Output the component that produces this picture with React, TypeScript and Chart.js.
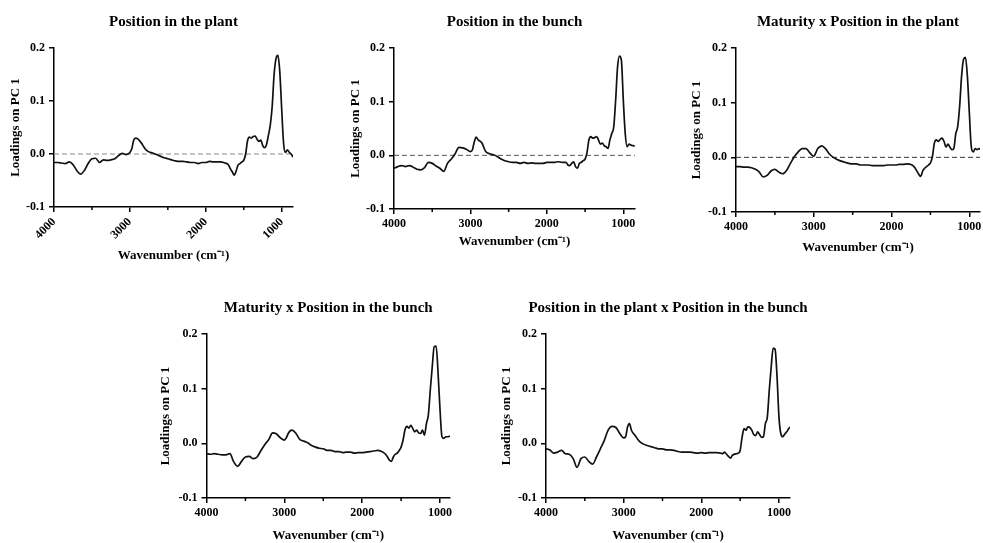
import React, { useEffect, useRef } from "react";
import { Chart, registerables } from "chart.js";

Chart.register(...registerables);

// ---------------- DATA ----------------
const wavenumbers = [
  4000, 3950, 3900, 3850, 3800, 3750, 3700, 3650, 3600, 3550,
  3500, 3450, 3400, 3350, 3300, 3250, 3200, 3150, 3100, 3050,
  3000, 2975, 2950, 2925, 2900, 2850, 2800, 2750, 2700, 2650,
  2600, 2550, 2500, 2450, 2400, 2350, 2300, 2250, 2200, 2150,
  2100, 2050, 2000, 1950, 1900, 1850, 1800, 1750, 1725, 1700,
  1675, 1650, 1625, 1600, 1575, 1550, 1525, 1500, 1475, 1450,
  1425, 1400, 1375, 1350, 1325, 1300, 1275, 1250, 1225, 1200,
  1175, 1150, 1125, 1100, 1075, 1050, 1025, 1000, 975, 950,
  925, 900, 875, 850,
];

const posPlant = [
  -0.016, -0.016, -0.017, -0.018, -0.015, -0.020, -0.031, -0.038, -0.031, -0.018,
  -0.009, -0.008, -0.016, -0.011, -0.012, -0.011, -0.009, -0.003, 0.001, -0.001,
  0.003, 0.010, 0.026, 0.030, 0.029, 0.021, 0.010, 0.004, 0.002, -0.001,
  -0.004, -0.007, -0.009, -0.011, -0.013, -0.014, -0.014, -0.015, -0.016, -0.016,
  -0.018, -0.016, -0.016, -0.014, -0.015, -0.015, -0.015, -0.017, -0.018, -0.021,
  -0.028, -0.034, -0.040, -0.032, -0.021, -0.018, -0.015, -0.012, 0.000, 0.025,
  0.032, 0.030, 0.033, 0.034, 0.028, 0.024, 0.026, 0.016, 0.012, 0.018,
  0.035, 0.055, 0.090, 0.150, 0.180, 0.186, 0.155, 0.085, 0.020, 0.003,
  0.008, 0.003, 0.000, -0.006,
];

const posBunch = [
  -0.024, -0.021, -0.019, -0.021, -0.019, -0.022, -0.026, -0.027, -0.023, -0.013,
  -0.015, -0.020, -0.024, -0.030, -0.015, -0.007, 0.003, 0.015, 0.014, 0.011,
  0.007, 0.010, 0.025, 0.034, 0.029, 0.023, 0.007, 0.003, 0.001, -0.002,
  -0.007, -0.010, -0.012, -0.013, -0.013, -0.015, -0.013, -0.015, -0.014, -0.015,
  -0.015, -0.015, -0.013, -0.013, -0.013, -0.012, -0.013, -0.013, -0.018, -0.019,
  -0.015, -0.012, -0.021, -0.024, -0.015, -0.013, -0.010, -0.007, 0.005, 0.029,
  0.035, 0.032, 0.033, 0.035, 0.029, 0.021, 0.023, 0.018, 0.016, 0.013,
  0.029, 0.041, 0.053, 0.103, 0.165, 0.185, 0.177, 0.103, 0.041, 0.016,
  0.021, 0.019, 0.018, 0.017,
];

const matPlant = [
  -0.017, -0.017, -0.018, -0.018, -0.019, -0.022, -0.027, -0.036, -0.033, -0.025,
  -0.022, -0.027, -0.030, -0.024, -0.011, 0.001, 0.010, 0.016, 0.016, 0.008,
  0.002, 0.008, 0.016, 0.019, 0.021, 0.016, 0.006, 0.000, -0.004, -0.007,
  -0.009, -0.011, -0.012, -0.012, -0.014, -0.014, -0.014, -0.015, -0.015, -0.015,
  -0.015, -0.014, -0.014, -0.014, -0.013, -0.013, -0.012, -0.013, -0.015, -0.019,
  -0.025, -0.031, -0.035, -0.025, -0.020, -0.017, -0.014, -0.010, 0.001, 0.026,
  0.032, 0.029, 0.033, 0.035, 0.029, 0.019, 0.024, 0.019, 0.014, 0.016,
  0.043, 0.056, 0.093, 0.148, 0.179, 0.183, 0.148, 0.081, 0.019, 0.010,
  0.016, 0.014, 0.016, 0.014,
];

const matBunch = [
  -0.019, -0.020, -0.019, -0.020, -0.021, -0.021, -0.019, -0.034, -0.042, -0.033,
  -0.025, -0.024, -0.028, -0.025, -0.013, -0.002, 0.007, 0.019, 0.017, 0.010,
  0.006, 0.010, 0.018, 0.023, 0.024, 0.018, 0.007, 0.004, 0.001, -0.004,
  -0.007, -0.009, -0.010, -0.013, -0.013, -0.015, -0.015, -0.017, -0.016, -0.016,
  -0.018, -0.017, -0.017, -0.016, -0.015, -0.014, -0.013, -0.015, -0.017, -0.020,
  -0.025, -0.031, -0.033, -0.025, -0.020, -0.018, -0.013, -0.007, 0.006, 0.025,
  0.031, 0.028, 0.033, 0.027, 0.021, 0.024, 0.019, 0.018, 0.024, 0.015,
  0.036, 0.052, 0.098, 0.140, 0.177, 0.178, 0.128, 0.061, 0.012, 0.009,
  0.012, 0.012, 0.013, 0.013,
];

const plantBunch = [
  -0.010, -0.012, -0.018, -0.016, -0.013, -0.019, -0.020, -0.028, -0.044, -0.028,
  -0.025, -0.033, -0.038, -0.025, -0.010, 0.005, 0.024, 0.031, 0.029, 0.018,
  0.010, 0.012, 0.030, 0.036, 0.024, 0.014, 0.004, -0.001, -0.004, -0.006,
  -0.008, -0.010, -0.010, -0.012, -0.012, -0.013, -0.015, -0.016, -0.016, -0.016,
  -0.017, -0.018, -0.017, -0.018, -0.017, -0.017, -0.017, -0.018, -0.019, -0.016,
  -0.020, -0.024, -0.027, -0.022, -0.020, -0.019, -0.018, -0.013, 0.011, 0.027,
  0.024, 0.030, 0.029, 0.024, 0.016, 0.014, 0.021, 0.016, 0.011, 0.012,
  0.036, 0.048, 0.097, 0.140, 0.174, 0.172, 0.122, 0.048, 0.017, 0.012,
  0.017, 0.021, 0.027, 0.030,
];

const panelTitles = [
  "Position in the plant",
  "Position in the bunch",
  "Maturity x Position in the plant",
  "Maturity x Position in the bunch",
  "Position in the plant x Position in the bunch",
];
const xAxisTitle = "Wavenumber (cm\u207B\u00B9)";
const yAxisTitle = "Loadings on PC 1";
const xMax = 4000;
const xMins = [851, 847, 863, 872, 858];
const xMajorTicks = [4000, 3000, 2000, 1000];
const xMinorTicks = [3500, 2500, 1500];
const yMin = -0.1;
const yMax = 0.2;
const yTicks = [-0.1, 0.0, 0.1, 0.2];
const yTickLabels = ["-0.1", "0.0", "0.1", "0.2"];
const seriesList = [posPlant, posBunch, matPlant, matBunch, plantBunch];

// ---------------- LAYOUT / STYLE ----------------
const FONT = "'Liberation Serif', 'Times New Roman', Times, serif";

type Box = { left: number; top: number; right: number; bottom: number };
type PanelLayout = {
  canvas: Box;
  plot: Box;
  titleY: number;
  yTitleX: number;
  xTitleY: number;
  rotate: number;
  zeroLine: boolean;
  zeroColor: string;
};

const layouts: PanelLayout[] = [
  {
    canvas: { left: 8, top: 0, right: 300, bottom: 270 },
    plot: { left: 54, top: 48, right: 293, bottom: 207 },
    titleY: 22, yTitleX: 15.5, xTitleY: 256, rotate: 45,
    zeroLine: true, zeroColor: "#8a8a8a",
  },
  {
    canvas: { left: 348, top: 0, right: 642, bottom: 270 },
    plot: { left: 394, top: 48, right: 635, bottom: 209 },
    titleY: 22, yTitleX: 355, xTitleY: 242, rotate: 0,
    zeroLine: true, zeroColor: "#555",
  },
  {
    canvas: { left: 689, top: 0, right: 983, bottom: 270 },
    plot: { left: 736, top: 48, right: 980, bottom: 212 },
    titleY: 22, yTitleX: 696, xTitleY: 248, rotate: 0,
    zeroLine: true, zeroColor: "#333",
  },
  {
    canvas: { left: 158, top: 280, right: 470, bottom: 543 },
    plot: { left: 206.5, top: 334, right: 450, bottom: 498 },
    titleY: 308, yTitleX: 165.7, xTitleY: 535.5, rotate: 0,
    zeroLine: false, zeroColor: "#333",
  },
  {
    canvas: { left: 499, top: 280, right: 840, bottom: 543 },
    plot: { left: 546, top: 334, right: 790, bottom: 498 },
    titleY: 308, yTitleX: 506, xTitleY: 535.5, rotate: 0,
    zeroLine: false, zeroColor: "#333",
  },
];

function Panel({ index }: { index: number }) {
  const ref = useRef<HTMLCanvasElement | null>(null);
  const L = layouts[index];
  const cw = L.canvas.right - L.canvas.left;
  const ch = L.canvas.bottom - L.canvas.top;

  useEffect(() => {
    if (!ref.current) return;
    const values = seriesList[index];
    const xMin = xMins[index];
    const titleFontSize = 15;
    const tickFontSize = 12;
    const axisTitleSize = 13;
    const axisLH = axisTitleSize * 1.2;

    const yAxisW = L.plot.left - L.canvas.left;
    const xAxisH = L.canvas.bottom - L.plot.bottom;
    const padRight = L.canvas.right - L.plot.right;
    const padTop = L.plot.top - L.canvas.top;
    const yTitlePad = Math.max(0, L.yTitleX - L.canvas.left - axisLH / 2);
    const xTitlePad = Math.max(0, L.canvas.bottom - L.xTitleY - axisLH / 2);

    const datasets: any[] = [
      {
        data: wavenumbers.map((x, i) => ({ x, y: values[i] })),
        borderColor: "#111",
        borderWidth: 1.7,
        pointRadius: 0,
        fill: false,
        cubicInterpolationMode: "monotone",
        order: 0,
      },
    ];
    if (L.zeroLine) {
      datasets.push({
        data: [
          { x: xMax, y: 0 },
          { x: xMin, y: 0 },
        ],
        borderColor: L.zeroColor,
        borderWidth: 1,
        borderDash: [5, 3],
        pointRadius: 0,
        fill: false,
        order: 1,
      });
    }

    const decorPlugin = {
      id: "decor" + index,
      afterDraw(chart: any) {
        const xs = chart.scales.x;
        const ctx = chart.ctx;
        const ca = chart.chartArea;
        ctx.save();
        // minor ticks on the x axis
        ctx.strokeStyle = "#000";
        ctx.lineWidth = 1.5;
        for (const v of xMinorTicks) {
          const px = xs.getPixelForValue(v);
          ctx.beginPath();
          ctx.moveTo(px, ca.bottom);
          ctx.lineTo(px, ca.bottom + 3);
          ctx.stroke();
        }
        // panel title, centred over the plot area (may be wider than it)
        ctx.fillStyle = "#000";
        ctx.font = `bold ${titleFontSize}px ${FONT}`;
        ctx.textAlign = "center";
        ctx.textBaseline = "middle";
        ctx.fillText(panelTitles[index], (ca.left + ca.right) / 2, L.titleY - L.canvas.top);
        ctx.restore();
      },
    };

    const tickFont = { family: FONT, size: tickFontSize, weight: "bold" as const };
    const axisTitleFont = { family: FONT, size: axisTitleSize, weight: "bold" as const };

    const chart = new Chart(ref.current, {
      type: "line",
      data: { datasets },
      options: {
        responsive: false,
        maintainAspectRatio: false,
        animation: false,
        layout: { padding: { left: 0, top: padTop, right: padRight, bottom: 0 } },
        plugins: {
          legend: { display: false },
          tooltip: { enabled: false },
          title: { display: false },
        },
        scales: {
          x: {
            type: "linear",
            reverse: true,
            min: xMin,
            max: xMax,
            border: { display: true, color: "#000", width: 1.5 },
            grid: {
              display: true,
              drawOnChartArea: false,
              drawTicks: true,
              tickLength: 5,
              color: "#000",
              lineWidth: 1.5,
            },
            ticks: {
              autoSkip: false,
              minRotation: L.rotate,
              maxRotation: L.rotate,
              padding: 3,
              color: "#000",
              font: tickFont,
              callback: (v: any) => String(v),
            },
            afterBuildTicks: (s: any) => {
              s.ticks = xMajorTicks.map((v) => ({ value: v }));
            },
            title: {
              display: true,
              text: xAxisTitle,
              color: "#000",
              font: axisTitleFont,
              padding: { top: 0, bottom: xTitlePad },
            },
            afterFit: (s: any) => {
              s.height = xAxisH;
              s.paddingLeft = 0;
              s.paddingRight = 0;
            },
          } as any,
          y: {
            type: "linear",
            min: yMin,
            max: yMax,
            border: { display: true, color: "#000", width: 1.5 },
            grid: {
              display: true,
              drawOnChartArea: false,
              drawTicks: true,
              tickLength: 5,
              color: "#000",
              lineWidth: 1.5,
            },
            ticks: {
              padding: 4,
              color: "#000",
              font: tickFont,
              callback: (v: any, i: number) => yTickLabels[i],
            },
            afterBuildTicks: (s: any) => {
              s.ticks = yTicks.map((v) => ({ value: v }));
            },
            title: {
              display: true,
              text: yAxisTitle,
              color: "#000",
              font: axisTitleFont,
              padding: { top: yTitlePad, bottom: 0 },
            },
            afterFit: (s: any) => {
              s.width = yAxisW;
              s.paddingTop = 0;
              s.paddingBottom = 0;
            },
          } as any,
        },
      },
      plugins: [decorPlugin],
    });
    return () => chart.destroy();
  }, [index]);

  return (
    <canvas
      ref={ref}
      width={cw}
      height={ch}
      style={{
        position: "absolute",
        left: L.canvas.left,
        top: L.canvas.top,
        width: cw,
        height: ch,
      }}
    />
  );
}

export default function App() {
  return (
    <div
      style={{
        position: "absolute",
        left: 0,
        top: 0,
        width: 983,
        height: 543,
        background: "#fff",
        overflow: "hidden",
      }}
    >
      {layouts.map((_, i) => (
        <Panel key={i} index={i} />
      ))}
    </div>
  );
}
